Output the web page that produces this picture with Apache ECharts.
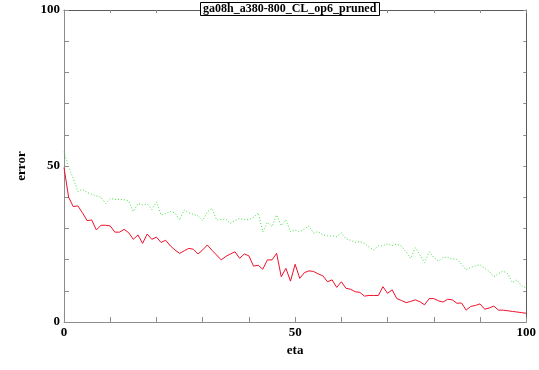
<!DOCTYPE html>
<html lang="en">
  <head>
    <meta charset="UTF-8" />
    <title>ga08h_a380-800_CL_op6_pruned</title>
    <script src="https://cdn.jsdelivr.net/npm/echarts@6.0.0/dist/echarts.min.js"></script>
    <style>
      body { margin: 0; background: #fff; }
    </style>
  </head>
  <body>
    <div id="main" style="width: 539px; height: 370px"></div>
    <script type="text/javascript">
      // eta values 0..100, one point per step
      let eta = [];
      for (let i = 0; i <= 100; i++) eta.push(i);

      // solid red line
      let redErr = [
        49.5, 40, 37, 37.2, 35, 32.5, 32.7, 29.5, 31, 31,
        30.8, 28.8, 28.8, 29.7, 28.6, 26.5, 27.9, 25.2, 28.2, 26.5,
        27.2, 25.5, 26.2, 24.4, 23.1, 22, 22.8, 23.6, 23.3, 21.8,
        23.1, 24.7, 23, 21.5, 19.9, 21, 21.8, 22.5, 20.4, 21.8,
        21.2, 17.9, 18.2, 16.9, 19.9, 19.9, 22, 14.5, 17.2, 13.1,
        18.5, 14, 15.8, 16.4, 16.2, 15.4, 14.8, 12.9, 13.5, 11.1,
        12.9, 10.8, 10.5, 9.7, 9.5, 8.3, 8.5, 8.5, 8.5, 11.3,
        9.2, 10.3, 7.5, 6.9, 6.2, 6.6, 7.1, 6.5, 5.5, 7.5,
        7.5, 6.8, 6.4, 7.3, 7.1, 6, 6.1, 3.8, 5, 5.3,
        5.8, 4.1, 4.5, 5.1, 3.8, 3.8, 3.6, 3.4, 3.2, 3.0,
        2.8
      ];

      // dotted green line
      let greenErr = [
        54.6, 49.8, 46, 41.8, 42.5, 41.5, 41, 40.4, 40, 38,
        39.6, 39.3, 39.3, 39.2, 38.8, 35.4, 38, 37.5, 37.8, 36.1,
        38.5, 34.3, 34.8, 35.4, 35, 32.7, 35.9, 35, 34.5, 34,
        32.5, 35.3, 36.4, 32.7, 32.8, 33, 31.6, 32.5, 33.2, 32.8,
        32.8, 33.5, 35, 28.9, 31.9, 30.6, 34.3, 30.9, 32.7, 28.9,
        29.5, 28.9, 29.8, 30.8, 28.5, 29, 27.9, 27.6, 27.6, 27.4,
        28.6, 26.7, 26.2, 25.5, 25.8, 25.2, 24, 23.1, 24.4, 24.4,
        25, 24.5, 25, 24.3, 22.5, 20.4, 23.8, 21.5, 19, 22.5,
        20.7, 19.5, 20.7, 20.7, 20.2, 20.1, 18.5, 16.7, 17.5, 18,
        18.3, 17.2, 16.2, 14.5, 15.5, 16.3, 15.5, 12.6, 13.5, 11.5,
        11
      ];

      let labelTicks = [0, 50, 100];

      let font = "Liberation Serif";
      let axisGray = "#8c8c8c";
      let frameGray = "#5a5a5a";

      function pairs(ys) {
        return eta.map((x, i) => [x, ys[i]]);
      }

      function mainAxis(name, nameGap, extra) {
        return Object.assign({
          type: "value",
          min: 0,
          max: 100,
          interval: 10,
          name: name,
          nameLocation: "middle",
          nameGap: nameGap,
          nameTextStyle: { fontFamily: font, fontWeight: "bold", fontSize: 13, color: "#000" },
          axisLine: { show: true, onZero: false, lineStyle: { color: axisGray, width: 1 } },
          axisTick: { show: true, inside: true, length: 5, lineStyle: { color: axisGray } },
          axisLabel: {
            margin: 4,
            fontFamily: font,
            fontWeight: "bold",
            fontSize: 13,
            color: "#000",
            formatter: (v) => (labelTicks.includes(v) ? String(v) : ""),
          },
          splitLine: { show: false },
        }, extra || {});
      }

      // top and right frame with short mirrored ticks
      function mirrorAxis(position) {
        return {
          type: "value",
          min: 0,
          max: 100,
          interval: 10,
          position: position,
          axisLine: { show: true, onZero: false, lineStyle: { color: frameGray, width: 1 } },
          axisTick: { show: true, inside: true, length: 3, lineStyle: { color: axisGray } },
          axisLabel: { show: false },
          splitLine: { show: false },
        };
      }

      let options = {
        animation: false,
        backgroundColor: "#fff",
        title: {
          text: "ga08h_a380-800_CL_op6_pruned",
          left: 200,
          top: 2,
          padding: [1, 3, 1, 3],
          borderWidth: 1,
          borderColor: "#000",
          backgroundColor: "#fff",
          textStyle: { fontFamily: font, fontWeight: "bold", fontSize: 12, color: "#000" },
          z: 10,
        },
        grid: { left: 64, right: 12, top: 10, bottom: 48, containLabel: false },
        xAxis: [mainAxis("eta", 14, { position: "bottom" }), mirrorAxis("top")],
        yAxis: [mainAxis("error", 36, { position: "left" }), mirrorAxis("right")],
        series: [
          {
            name: "red",
            type: "line",
            data: pairs(redErr),
            showSymbol: false,
            lineStyle: { color: "#f0102a", width: 1 },
            z: 3,
          },
          {
            name: "green",
            type: "line",
            data: pairs(greenErr),
            showSymbol: false,
            lineStyle: { color: "#40e040", width: 1, type: [1, 2] },
            z: 2,
          },
        ],
      };

      let myChart = echarts.init(document.getElementById("main"));
      myChart.setOption(options);
    </script>
  </body>
</html>
